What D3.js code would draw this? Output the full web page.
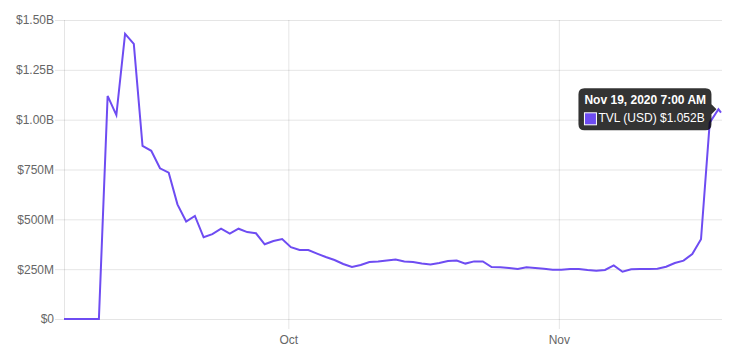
<!DOCTYPE html>
<html>
<head>
<meta charset="utf-8">
<script src="https://cdn.jsdelivr.net/npm/d3@7"></script>
<style>
    body { margin: 0; background: #fff; }
    svg { display: block; font-family: "Liberation Sans", Arial, Helvetica, sans-serif; }
</style>
</head>
<body>
<script>
// Daily TVL readings (7:00 AM), last one is the live value
const dates = [
    "2020-09-05 07:00", "2020-09-06 07:00", "2020-09-07 07:00", "2020-09-08 07:00", "2020-09-09 07:00",
    "2020-09-10 07:00", "2020-09-11 07:00", "2020-09-12 07:00", "2020-09-13 07:00", "2020-09-14 07:00",
    "2020-09-15 07:00", "2020-09-16 07:00", "2020-09-17 07:00", "2020-09-18 07:00", "2020-09-19 07:00",
    "2020-09-20 07:00", "2020-09-21 07:00", "2020-09-22 07:00", "2020-09-23 07:00", "2020-09-24 07:00",
    "2020-09-25 07:00", "2020-09-26 07:00", "2020-09-27 07:00", "2020-09-28 07:00", "2020-09-29 07:00",
    "2020-09-30 07:00", "2020-10-01 07:00", "2020-10-02 07:00", "2020-10-03 07:00", "2020-10-04 07:00",
    "2020-10-05 07:00", "2020-10-06 07:00", "2020-10-07 07:00", "2020-10-08 07:00", "2020-10-09 07:00",
    "2020-10-10 07:00", "2020-10-11 07:00", "2020-10-12 07:00", "2020-10-13 07:00", "2020-10-14 07:00",
    "2020-10-15 07:00", "2020-10-16 07:00", "2020-10-17 07:00", "2020-10-18 07:00", "2020-10-19 07:00",
    "2020-10-20 07:00", "2020-10-21 07:00", "2020-10-22 07:00", "2020-10-23 07:00", "2020-10-24 07:00",
    "2020-10-25 07:00", "2020-10-26 07:00", "2020-10-27 07:00", "2020-10-28 07:00", "2020-10-29 07:00",
    "2020-10-30 07:00", "2020-10-31 07:00", "2020-11-01 07:00", "2020-11-02 07:00", "2020-11-03 07:00",
    "2020-11-04 07:00", "2020-11-05 07:00", "2020-11-06 07:00", "2020-11-07 07:00", "2020-11-08 07:00",
    "2020-11-09 07:00", "2020-11-10 07:00", "2020-11-11 07:00", "2020-11-12 07:00", "2020-11-13 07:00",
    "2020-11-14 07:00", "2020-11-15 07:00", "2020-11-16 07:00", "2020-11-17 07:00", "2020-11-18 07:00",
    "2020-11-19 07:00", "2020-11-19 14:00"
];

// TVL in billions of USD
const tvl = [
    0, 0, 0, 0, 0,
    1.119, 1.023, 1.430, 1.380, 0.868,
    0.844, 0.756, 0.734, 0.575, 0.489,
    0.517, 0.410, 0.426, 0.453, 0.428,
    0.453, 0.436, 0.430, 0.375, 0.391,
    0.401, 0.360, 0.346, 0.346, 0.328,
    0.311, 0.296, 0.276, 0.261, 0.271,
    0.286, 0.288, 0.294, 0.298, 0.288,
    0.286, 0.278, 0.274, 0.281, 0.291,
    0.293, 0.278, 0.289, 0.289, 0.261,
    0.259, 0.256, 0.251, 0.259, 0.256,
    0.252, 0.247, 0.247, 0.251, 0.251,
    0.246, 0.242, 0.246, 0.269, 0.237,
    0.249, 0.251, 0.251, 0.252, 0.262,
    0.281, 0.293, 0.326, 0.400, 0.985,
    1.052, 1.035
];

const yTicks = [0, 0.25, 0.5, 0.75, 1.0, 1.25, 1.5];
const yTickLabels = ["$0", "$250M", "$500M", "$750M", "$1.00B", "$1.25B", "$1.50B"];

const hoverIndex = 75;
const tooltipTitle = "Nov 19, 2020 7:00 AM";
const tooltipBody = "TVL (USD) $1.052B";

const parseTime = d3.timeParse("%Y-%m-%d %H:%M");
const data = dates.map((d, i) => ({ date: parseTime(d), value: tvl[i] }));

const width = 731;
const height = 350;
const margin = { top: 20, right: 10, bottom: 31, left: 64 };
const lineColor = "#6e4cf2";
const gridColor = "rgba(0,0,0,0.1)";

const svg = d3.select("body").append("svg")
    .attr("width", width)
    .attr("height", height);

const x = d3.scaleTime()
    .domain(d3.extent(data, d => d.date))
    .range([margin.left, width - margin.right]);

const y = d3.scaleLinear()
    .domain([0, 1.5])
    .range([height - margin.bottom, margin.top]);

// Horizontal grid + y labels
const yAxis = svg.append("g")
    .attr("class", "y-axis")
    .attr("transform", `translate(${margin.left},0)`)
    .call(d3.axisLeft(y)
        .tickValues(yTicks)
        .tickFormat((d, i) => yTickLabels[i])
        .tickSize(-(width - margin.right - margin.left) - 1)
        .tickPadding(20));

yAxis.select(".domain").remove();
yAxis.selectAll(".tick line")
    .attr("x1", -9)
    .attr("stroke", gridColor);
yAxis.selectAll(".tick text")
    .attr("x", -10)
    .attr("fill", "#666")
    .style("font-size", "12px")
    .style("font-family", "\"Liberation Sans\", Arial, sans-serif");

// Vertical grid + month labels
const xAxis = svg.append("g")
    .attr("class", "x-axis")
    .attr("transform", `translate(0,${height - margin.bottom})`)
    .call(d3.axisBottom(x)
        .ticks(d3.timeMonth.every(1))
        .tickFormat(d3.timeFormat("%b"))
        .tickSize(10)
        .tickPadding(6));

xAxis.select(".domain").remove();
xAxis.selectAll(".tick line")
    .attr("y1", -(height - margin.bottom - margin.top))
    .attr("stroke", gridColor);
xAxis.selectAll(".tick text")
    .attr("fill", "#666")
    .style("font-size", "12px")
    .style("font-family", "\"Liberation Sans\", Arial, sans-serif");

// Left axis line
svg.append("line")
    .attr("x1", margin.left + 0.5)
    .attr("x2", margin.left + 0.5)
    .attr("y1", margin.top)
    .attr("y2", height - margin.bottom)
    .attr("stroke", gridColor);

// TVL line
const line = d3.line()
    .x(d => x(d.date))
    .y(d => y(d.value));

svg.append("path")
    .datum(data)
    .attr("fill", "none")
    .attr("stroke", lineColor)
    .attr("stroke-width", 2)
    .attr("stroke-linejoin", "miter")
    .attr("d", line);

// Tooltip at the hovered point
const hp = data[hoverIndex];
const px = x(hp.date);
const py = y(hp.value);
const boxW = 133;
const boxH = 42;
const boxX = px - 7 - boxW;
const boxY = py - boxH / 2;

const tip = svg.append("g").attr("class", "tooltip");

tip.append("path")
    .attr("fill", "rgba(0,0,0,0.8)")
    .attr("d", () => {
        const r = 6;
        const right = boxX + boxW;
        const bottom = boxY + boxH;
        return `M${boxX + r},${boxY}
            H${right - r} Q${right},${boxY} ${right},${boxY + r}
            V${py - 5} L${right + 5},${py} L${right},${py + 5}
            V${bottom - r} Q${right},${bottom} ${right - r},${bottom}
            H${boxX + r} Q${boxX},${bottom} ${boxX},${bottom - r}
            V${boxY + r} Q${boxX},${boxY} ${boxX + r},${boxY} Z`;
    });

tip.append("text")
    .attr("x", boxX + 6)
    .attr("y", boxY + 16)
    .attr("fill", "#fff")
    .style("font-size", "12px")
    .style("font-weight", "bold")
    .text(tooltipTitle);

tip.append("rect")
    .attr("x", boxX + 6)
    .attr("y", boxY + 24.5)
    .attr("width", 12)
    .attr("height", 12)
    .attr("fill", lineColor)
    .attr("stroke", "#fff")
    .attr("stroke-width", 1);

tip.append("text")
    .attr("x", boxX + 20)
    .attr("y", boxY + 34)
    .attr("fill", "#fff")
    .style("font-size", "12px")
    .text(tooltipBody);
</script>
</body>
</html>
